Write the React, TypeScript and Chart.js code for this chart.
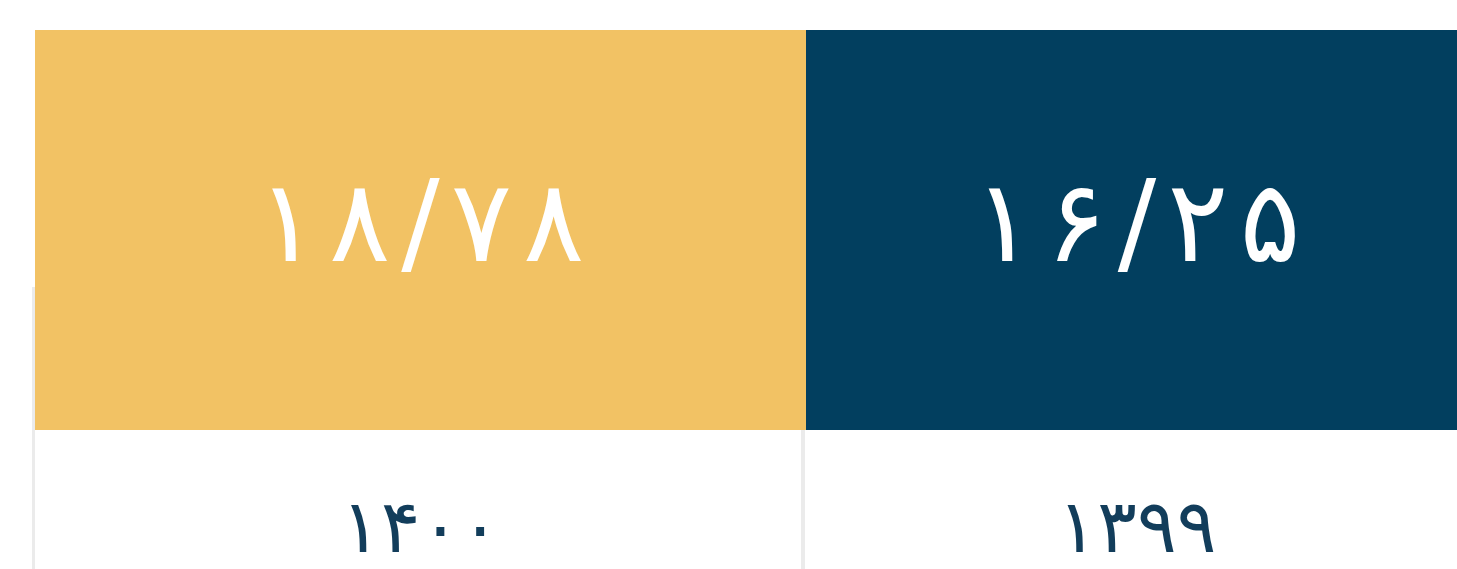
import React, { useEffect, useRef } from 'react';
import { Chart, registerables } from 'chart.js';

Chart.register(...registerables);

// ---- data ----
const years: string[] = ['۱۴۰۰', '۱۳۹۹'];
const values: number[] = [18.78, 16.25];
const colors: string[] = ['#f2c264', '#023f5f'];

const FONT = '"DejaVu Sans", "Noto Sans", sans-serif';

const toPersian = (v: number): string =>
  v
    .toFixed(2)
    .replace('.', '/')
    .replace(/\d/g, (d) => '۰۱۲۳۴۵۶۷۸۹'[Number(d)]);

const valueLabelPlugin = {
  id: 'valueLabel',
  afterDatasetsDraw(chart: any) {
    const { ctx } = chart;
    const meta = chart.getDatasetMeta(0);
    const ds = chart.data.datasets[0];
    const spacing = 11;
    meta.data.forEach((bar: any, i: number) => {
      const chars = Array.from(toPersian(ds.data[i] as number));
      ctx.save();
      ctx.font = `normal 114px ${FONT}`;
      ctx.fillStyle = '#ffffff';
      ctx.textAlign = 'left';
      ctx.textBaseline = 'alphabetic';
      const full = ctx.measureText(chars.join(''));
      const widths = chars.map((c) => ctx.measureText(c).width);
      const total = widths.reduce((a, b) => a + b, 0) + spacing * (chars.length - 1);
      const cy = (bar.y + bar.base) / 2 - 5;
      const y = cy + (full.actualBoundingBoxAscent - full.actualBoundingBoxDescent) / 2;
      let x = bar.x - total / 2;
      chars.forEach((c, k) => {
        ctx.fillText(c, x, y);
        x += widths[k] + spacing;
      });
      ctx.restore();
    });
  },
};

function Cell({ index, left, width }: { index: number; left: number; width: number }) {
  const ref = useRef<HTMLCanvasElement>(null);
  useEffect(() => {
    if (!ref.current) return;
    const chart = new Chart(ref.current, {
      type: 'bar',
      data: {
        labels: [years[index]],
        datasets: [
          {
            data: [values[index]],
            backgroundColor: colors[index],
            borderWidth: 0,
            categoryPercentage: 1,
            barPercentage: 1,
          },
        ],
      },
      options: {
        animation: false,
        responsive: false,
        maintainAspectRatio: false,
        layout: { padding: { top: 30, left: 0, right: 0, bottom: 0 } },
        plugins: {
          legend: { display: false },
          tooltip: { enabled: false },
        },
        scales: {
          x: {
            grid: { display: false, drawTicks: false },
            border: { display: false },
            ticks: {
              color: '#123d5b',
              font: { family: FONT, size: 74 },
              padding: 58,
            },
            afterFit: (scale: any) => {
              scale.height = 139;
            },
          },
          y: { display: false, min: 0, max: values[index] },
        },
      },
      plugins: [valueLabelPlugin],
    } as any);
    return () => chart.destroy();
  }, [index]);
  return (
    <canvas
      ref={ref}
      width={width}
      height={569}
      style={{ position: 'absolute', left, top: 0, width, height: 569 }}
    />
  );
}

export default function App() {
  return (
    <div
      style={{
        position: 'fixed',
        left: 0,
        top: 0,
        width: 1457,
        height: 569,
        overflow: 'hidden',
        background: '#ffffff',
      }}
    >
      <div style={{ position: 'absolute', left: 32, top: 287, width: 3, height: 282, background: '#ebebeb' }} />
      <div style={{ position: 'absolute', left: 801, top: 430, width: 4, height: 139, background: '#ebebeb' }} />
      <Cell index={0} left={35} width={771} />
      <Cell index={1} left={806} width={662} />
    </div>
  );
}
